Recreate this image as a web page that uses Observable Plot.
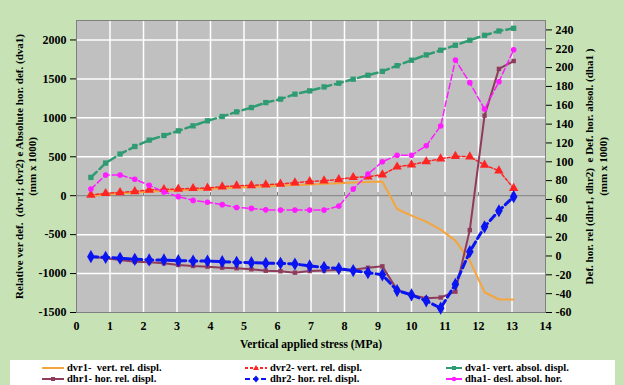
<!DOCTYPE html>
<html><head><meta charset="utf-8">
<script src="https://cdn.jsdelivr.net/npm/d3@7"></script>
<script src="https://cdn.jsdelivr.net/npm/@observablehq/plot@0.6"></script>
<style>
body{margin:0;background:#c7e3b6;width:624px;height:385px;overflow:hidden;position:relative;font-family:"Liberation Serif","Times New Roman","DejaVu Serif",serif;}
#chart{position:absolute;left:0;top:0;}
#chart svg, #chart svg text{font-family:"Liberation Serif","Times New Roman","DejaVu Serif",serif !important;}
#legend{position:absolute;left:10px;top:360px;width:605px;height:30px;background:#fff;overflow:hidden;}
.item{position:absolute;font-weight:bold;font-size:10.5px;white-space:pre;display:flex;align-items:center;height:11px;line-height:11px;color:#000;}
.item svg{margin-right:3px;}
</style></head><body><div id="chart"></div><div id="legend"></div>
<script>
// Data
const stress = [0.43, 0.87, 1.30, 1.74, 2.17, 2.61, 3.04, 3.48, 3.91, 4.35, 4.78, 5.22, 5.65, 6.09, 6.52, 6.96, 7.39, 7.83, 8.26, 8.70, 9.13, 9.57, 10.00, 10.44, 10.87, 11.31, 11.74, 12.18, 12.61, 13.05];
// left axis series
const dvr1 = [0, 15, 28, 40, 52, 62, 70, 78, 86, 95, 104, 112, 120, 130, 138, 145, 152, 160, 168, 175, 183, -171, -256, -333, -436, -577, -833, -1240, -1333, -1333];
const dvr2 = [9, 30, 42, 55, 73, 81, 86, 94, 99, 115, 128, 132, 141, 150, 167, 183, 192, 209, 235, 244, 269, 370, 397, 438, 474, 506, 500, 395, 321, 96];
const dva1 = [235, 419, 535, 632, 714, 773, 833, 897, 962, 1017, 1077, 1132, 1196, 1240, 1304, 1346, 1397, 1445, 1496, 1547, 1597, 1670, 1740, 1808, 1868, 1932, 1996, 2060, 2115, 2150];
// right axis series
const dhr1 = [-0.7, -2.4, -4.2, -6, -6.7, -7.7, -9.5, -10.6, -11.3, -12.4, -13, -14.1, -15.6, -16.2, -17.7, -16, -15.5, -15, -14.5, -12.5, -11, -36, -41.3, -44.8, -44.1, -37.8, 27.5, 149, 198.6, 207];
const dhr2 = [-0.7, -1.4, -2.4, -3.5, -4.2, -4.2, -5, -5.3, -5.3, -6, -6.7, -7.1, -7.7, -7.7, -8.5, -10.6, -12, -13.4, -15.5, -17.7, -20, -36.7, -41.3, -47.6, -55.4, -30, 4.6, 31, 48, 63];
const dha1 = [71, 86, 86, 81.5, 75, 68, 63, 59, 57, 54.5, 51.5, 50.5, 49, 48.7, 48.7, 48.7, 48.7, 53, 71, 87, 100, 107, 107, 117, 138, 208, 184, 156, 185, 219];

const xTicks = [0,1,2,3,4,5,6,7,8,9,10,11,12,13,14];
const leftTicks = [-1500,-1000,-500,0,500,1000,1500,2000];
const rightTicks = [-60,-40,-20,0,20,40,60,80,100,120,140,160,180,200,220,240];
const xTitle = "Vertical applied stress (MPa)";
const leftTitle = "Relative ver def.  (dvr1; dvr2) e Absolute hor. def. (dva1)\n(mm x 1000)";
const rightTitle = "Def. hor. rel (dhr1, dhr2)  e Def. hor. absol. (dha1 )\n(mm x 1000)";
const legendLabels = ["dvr1-  vert. rel. displ.", "dvr2- vert. rel. displ.", "dva1- vert. absol. displ.", "dhr1- hor. rel. displ.", "dhr2- hor. rel. displ.", "dha1- desl. absol. hor."];

// left [-1500,2250] <-> right [-60,250]
const toL = r => -1500 + (r + 60) * 3750 / 310;
const fromL = l => (l + 1500) * 310 / 3750 - 60;

const rows = stress.map((x, i) => ({x, dvr1: dvr1[i], dvr2: dvr2[i], dva1: dva1[i], dhr1: toL(dhr1[i]), dhr2: toL(dhr2[i]), dha1: toL(dha1[i])}));

const C = {dvr1:"#f5a53d", dvr2:"#ff2424", dva1:"#2f9b72", dhr1:"#8e3b5c", dhr2:"#0a14f0", dha1:"#ff1cff"};
const FONT = "'Liberation Serif','Times New Roman','DejaVu Serif',serif";

const chart = Plot.plot({
  width: 624, height: 355,
  marginLeft: 76, marginRight: 79, marginTop: 20, marginBottom: 43,
  x: {domain: [0, 14]},
  y: {domain: [-1500, 2250]},
  style: {background: "transparent", fontFamily: FONT, fontWeight: "bold", fontSize: "12px", color: "#000"},
  marks: [
    Plot.frame({fill: "#c0c0c0"}),
    Plot.gridX({ticks: xTicks.slice(1, -1), stroke: "#fff", strokeOpacity: 1, strokeWidth: 1.5}),
    Plot.gridY({ticks: leftTicks.filter(d => d !== 0 && d !== -1500), stroke: "#fff", strokeOpacity: 1, strokeWidth: 1.5}),
    Plot.ruleY([0], {stroke: "#808080"}),
    Plot.ruleX(xTicks.slice(1, -1), {x: d => d, y1: 0, y2: 40, stroke: "#808080"}),
    Plot.frame({stroke: "#808080"}),
    Plot.axisX({ticks: xTicks, tickSize: 0, tickPadding: 9, label: null, tickFormat: d => String(d)}),
    Plot.axisY({anchor: "left", ticks: leftTicks, tickSize: 6, tickPadding: 4, label: null, tickFormat: d => String(d)}),
    Plot.axisY({anchor: "right", ticks: rightTicks.map(toL), tickSize: 6, tickPadding: 4, label: null, tickFormat: d => String(Math.round(fromL(d)))}),
    Plot.text([xTitle], {frameAnchor: "bottom", dy: 35, text: d => d, fontSize: 11.5}),
    Plot.text([leftTitle], {frameAnchor: "left", dx: -51.5, rotate: -90, textAnchor: "middle", lineAnchor: "middle", text: d => d, fontSize: 11, lineHeight: 1.25}),
    Plot.text([rightTitle], {frameAnchor: "right", dx: 50, rotate: -90, textAnchor: "middle", lineAnchor: "middle", text: d => d, fontSize: 11, lineHeight: 1.25}),
    // series
    Plot.line(rows, {x: "x", y: "dvr1", stroke: C.dvr1, strokeWidth: 2}),
    Plot.line(rows, {x: "x", y: "dvr2", stroke: C.dvr2, strokeWidth: 1.5, strokeDasharray: "3,2"}),
    Plot.dot(rows, {x: "x", y: "dvr2", symbol: "triangle", fill: C.dvr2, r: 3.5}),
    Plot.line(rows, {x: "x", y: "dva1", stroke: C.dva1, strokeWidth: 2.5, strokeDasharray: "8,4"}),
    Plot.dot(rows, {x: "x", y: "dva1", symbol: "square", fill: C.dva1, r: 3}),
    Plot.line(rows, {x: "x", y: "dhr1", stroke: C.dhr1, strokeWidth: 2}),
    Plot.dot(rows, {x: "x", y: "dhr1", symbol: "square", fill: C.dhr1, r: 2.5}),
    Plot.line(rows, {x: "x", y: "dhr2", stroke: C.dhr2, strokeWidth: 3, strokeDasharray: "7,4"}),
    Plot.dot(rows, {x: "x", y: "dhr2", symbol: "diamond", fill: C.dhr2, r: 4}),
    Plot.line(rows, {x: "x", y: "dha1", stroke: C.dha1, strokeWidth: 1.5, strokeDasharray: "6,3"}),
    Plot.dot(rows, {x: "x", y: "dha1", symbol: "circle", fill: C.dha1, r: 2.8})
  ]
});
document.getElementById("chart").appendChild(chart);

// Legend
const legendStyles = [
  {c: C.dvr1, dash: null, sym: null},
  {c: C.dvr2, dash: "3,2", sym: "tri"},
  {c: C.dva1, dash: null, sym: "sq"},
  {c: C.dhr1, dash: null, sym: "sq"},
  {c: C.dhr2, dash: "5,3", sym: "dia"},
  {c: C.dha1, dash: null, sym: "circ"}
];
const cols = [32, 235, 436];
const rowsY = [2, 13];
const leg = document.getElementById("legend");
legendLabels.forEach((lab, i) => {
  const s = legendStyles[i];
  const div = document.createElement("div");
  div.className = "item";
  div.style.left = cols[i % 3] + "px";
  div.style.top = rowsY[Math.floor(i / 3)] + "px";
  const w = i % 3 === 2 ? 16 : 22;
  let mk = "";
  const cx = w / 2;
  if (s.sym === "tri") mk = `<path d="M${cx},2 L${cx+3},7 L${cx-3},7Z" fill="${s.c}"/>`;
  if (s.sym === "sq") mk = `<rect x="${cx-2}" y="3" width="4" height="4" fill="${s.c}"/>`;
  if (s.sym === "dia") mk = `<path d="M${cx},1.5 L${cx+3},5 L${cx},8.5 L${cx-3},5Z" fill="${s.c}"/>`;
  if (s.sym === "circ") mk = `<circle cx="${cx}" cy="5" r="2.3" fill="${s.c}"/>`;
  div.innerHTML = `<svg width="${w}" height="10"><line x1="0" y1="5" x2="${w}" y2="5" stroke="${s.c}" stroke-width="2" ${s.dash ? `stroke-dasharray="${s.dash}"` : ""}/>${mk}</svg><span>${lab}</span>`;
  leg.appendChild(div);
});
</script></body></html>
